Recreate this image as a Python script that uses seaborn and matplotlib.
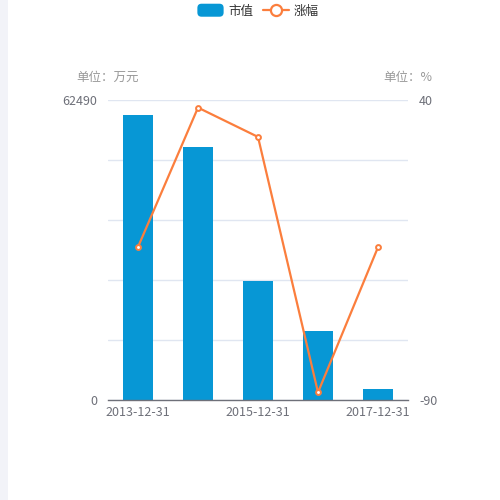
import numpy as np
import pandas as pd
import matplotlib
matplotlib.use("Agg")
import matplotlib.pyplot as plt
from matplotlib.patches import Patch, Rectangle, FancyBboxPatch
from matplotlib.lines import Line2D
from matplotlib.legend_handler import HandlerPatch
import seaborn as sns

# data
dates = ["2013-12-31", "2014-12-31", "2015-12-31", "2016-12-31", "2017-12-31"]
market_value = [59370, 52770, 24860, 14370, 2290]   # 市值, 万元
change_pct = [-23.7, 36.7, 24.0, -86.7, -23.8]      # 涨幅, %

left_max = 62490
right_min, right_max = -90, 40

bar_color = "#0797d5"
line_color = "#fb7e3d"
text_color = "#6e7079"
unit_color = "#999999"
grid_color = "#e0e6f1"

sns.set_theme(style="white")
plt.rcParams["font.family"] = ["Noto Sans CJK SC", "DejaVu Sans"]

df = pd.DataFrame({"date": dates, "value": market_value, "pct": change_pct})


class RoundRectHandler(HandlerPatch):
    # rounded legend swatch like the echarts one
    def create_artists(self, legend, orig_handle, xdescent, ydescent,
                       width, height, fontsize, trans):
        h = 13 * 72 / 100
        y0 = -ydescent + (height - h) / 2
        p = FancyBboxPatch((-xdescent, y0), width, h,
                           boxstyle="round,pad=0,rounding_size=3",
                           facecolor=orig_handle.get_facecolor(), edgecolor="none",
                           transform=trans)
        return [p]


fig = plt.figure(figsize=(5, 5), dpi=100)
fig.patch.set_facecolor("white")
# light strip on the left edge
fig.add_artist(Rectangle((0, 0), 8 / 500, 1, transform=fig.transFigure,
                         facecolor="#f2f3f8", edgecolor="none", zorder=0))

ax = fig.add_axes([0.216, 0.2, 0.6, 0.6])
sns.barplot(data=df, x="date", y="value", color=bar_color, saturation=1,
            width=0.5, linewidth=0, ax=ax, zorder=2)
ax.set_xlim(-0.5, 4.5)
ax.set_ylim(0, left_max)

yt = np.linspace(0, left_max, 6)
ax.set_yticks(yt)
ax.set_yticklabels(["0", "", "", "", "", "62490"])
ax.yaxis.grid(True, color=grid_color, linewidth=1)
ax.set_axisbelow(True)
ax.tick_params(axis="y", length=0, pad=8, labelsize=9, labelcolor=text_color)

# tick marks on band edges, labels every other category
ax.set_xticks([-0.5, 1.5, 3.5, 4.5])
ax.set_xticklabels([])
ax.set_xticks([0, 2, 4], minor=True)
ax.set_xticklabels([dates[0], dates[2], dates[4]], minor=True)
ax.tick_params(axis="x", which="major", length=5, width=1, color=text_color, direction="out")
ax.tick_params(axis="x", which="minor", length=0, pad=4.5, labelsize=9, labelcolor=text_color)
ax.set_xlabel("")
ax.set_ylabel("")

for s in ["top", "right", "left"]:
    ax.spines[s].set_visible(False)
ax.spines["bottom"].set_color(text_color)
ax.spines["bottom"].set_linewidth(1)

ax2 = ax.twinx()
sns.pointplot(data=df, x="date", y="pct", color=line_color, ax=ax2,
              markers="o", linestyles="-", linewidth=1.6,
              markersize=3.5, markerfacecolor="white", markeredgewidth=1.4)
ax2.set_xlim(-0.5, 4.5)
ax2.set_ylim(right_min, right_max)
ax2.set_yticks([right_min, right_max])
ax2.set_yticklabels(["-90", "40"])
ax2.tick_params(axis="y", length=0, pad=8, labelsize=9, labelcolor=text_color)
ax2.set_ylabel("")
ax2.grid(False)
for s in ["top", "right", "left", "bottom"]:
    ax2.spines[s].set_visible(False)

# unit labels
fig.text(108 / 500, 1 - 77 / 500, "单位：万元", ha="center", va="center",
         fontsize=9, color=unit_color)
fig.text(408 / 500, 1 - 77 / 500, "单位：%", ha="center", va="center",
         fontsize=9, color=unit_color)

handles = [
    Patch(facecolor=bar_color, edgecolor="none", label="市值"),
    Line2D([0], [0], color=line_color, linewidth=1.6, marker="o",
           markersize=8, markerfacecolor="white", markeredgewidth=1.6, label="涨幅"),
]
fig.legend(handles=handles, loc="center", bbox_to_anchor=(258 / 500, 1 - 11 / 500),
           ncol=2, frameon=False, fontsize=9, handlelength=2.1, handleheight=1.0,
           columnspacing=0.8, handletextpad=0.35, labelcolor="#333333",
           handler_map={Patch: RoundRectHandler()})

fig.savefig("out.png", dpi=100)
